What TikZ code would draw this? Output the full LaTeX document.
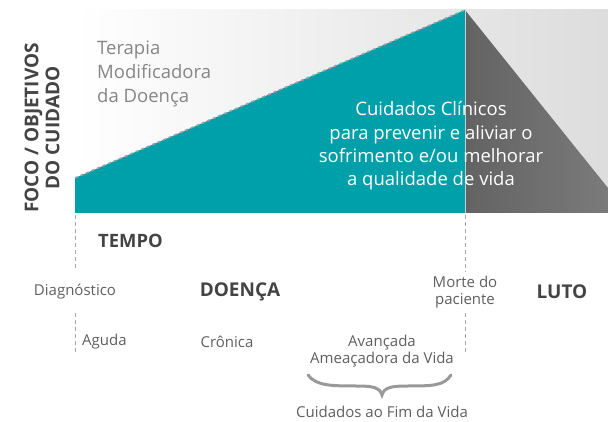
\documentclass[tikz,border=0pt]{standalone}
\usepackage{fontspec}
\setmainfont{Open Sans}
\usetikzlibrary{positioning, calc}

\definecolor{tealcare}{RGB}{0,160,170}
\definecolor{darkgrief}{RGB}{99,99,99}
\definecolor{labelgray}{RGB}{95,95,95}
\definecolor{titlegray}{RGB}{68,68,68}

\tikzset{
    smalllabel/.style={text=labelgray, font=\fontsize{15}{17.5}\selectfont, align=center, inner sep=0pt},
    titlelabel/.style={text=titlegray, font=\fontsize{18.4}{21}\selectfont\bfseries, inner sep=0pt},
    timeline/.style={gray!70, dash pattern=on 4pt off 3pt, line width=1pt}
}

\begin{document}
\begin{tikzpicture}[x=1pt, y=-1pt]
    \useasboundingbox (0,0) rectangle (608,422);

    % Background
    \shade[left color=white, right color=gray!27] (75,10) rectangle (608,213);

    % Care area (teal) and grief area (dark)
    \fill[tealcare] (75,213) -- (75,178) -- (465,10) -- (465,213) -- cycle;
    \shade[left color=darkgrief, right color=black!52] (465,10) -- (608,188) -- (608,213) -- (465,213) -- cycle;
    \draw[gray!40, line width=0.8pt] (465,10) -- (465,213);

    % Disease-modifying therapy boundary
    \draw[gray!75, dashed, line width=1.6pt] (75,178) -- (465,10);

    % Time markers
    \draw[timeline] (75,215) -- (75,270);
    \draw[timeline] (75,313) -- (75,352);
    \draw[timeline] (465,215) -- (465,272);
    \draw[timeline] (465,313) -- (465,352);

    % Axis title
    \node[titlelabel, rotate=90, align=center, font=\fontsize{19}{21}\selectfont\bfseries] (foco) at (42,128) {FOCO / OBJETIVOS\\DO CUIDADO};

    % Texts in the chart
    \node[text=gray!95, anchor=west, align=left, inner sep=0pt, font=\fontsize{18.5}{24}\selectfont] (terapia) at (97,74) {Terapia\\Modificadora\\da Doença};
    \node[text=white, align=center, inner sep=0pt, font=\fontsize{18.5}{23.4}\selectfont] (cuidados) at (431,146) {Cuidados Clínicos\\para prevenir e aliviar o\\sofrimento e/ou melhorar\\a qualidade de vida};

    % Timeline labels
    \node[titlelabel, anchor=west] (tempo) at (98,241) {TEMPO};
    \node[smalllabel] (diag) at (75,292) {Diagnóstico};
    \node[titlelabel, font=\fontsize{19}{22}\selectfont\bfseries] (doenca) at (240,292) {DOENÇA};
    \node[smalllabel] (morte) at (465,292) {Morte do\\paciente};
    \node[titlelabel, font=\fontsize{19}{22}\selectfont\bfseries] (luto) at (562,292) {LUTO};

    % Disease phases
    \node[smalllabel, anchor=west] (aguda) at (82,342) {Aguda};
    \node[smalllabel] (cronica) at (227,342) {Crônica};
    \node[smalllabel] (avancada) at (382,351) {Avançada\\Ameaçadora da Vida};

    % End of life brace
    \draw[gray!80, line width=3pt, line cap=round]
        (308,375) .. controls (316,386) and (332,386) .. (358,386)
        .. controls (374,386) and (380,388) .. (382,395)
        .. controls (384,388) and (390,386) .. (406,386)
        .. controls (432,386) and (444,386) .. (451,375);
    \node[smalllabel] (fimvida) at (382,412) {Cuidados ao Fim da Vida};

\end{tikzpicture}
\end{document}
